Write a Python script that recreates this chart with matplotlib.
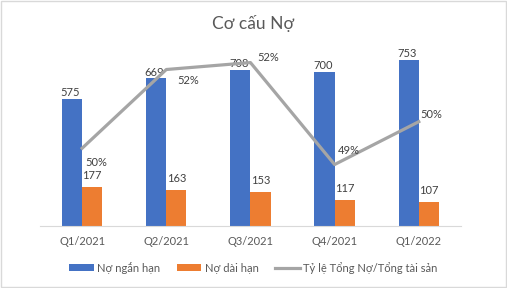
import numpy as np
import matplotlib
matplotlib.use("Agg")
import matplotlib.pyplot as plt
from matplotlib.patches import Rectangle

plt.rcParams['font.family'] = ['Lato', 'Noto Sans', 'DejaVu Sans']

quarters = ["Q1/2021", "Q2/2021", "Q3/2021", "Q4/2021", "Q1/2022"]
short_debt = [575, 669, 708, 700, 753]
long_debt = [177, 163, 153, 117, 107]
debt_ratio = [0.496, 0.5153, 0.517, 0.492, 0.5025]

blue = "#4472C4"
orange = "#ED7D31"
grey = "#A5A5A5"
txt = "#404040"

fig = plt.figure(figsize=(5.07, 2.88), dpi=100)
ax = fig.add_axes([0.079, 0.215, 0.830, 0.613])
ax2 = ax.twinx()

x = np.arange(len(quarters))
w = 0.24
b1 = ax.bar(x - w / 2, short_debt, w, color=blue, label="Nợ ngắn hạn")
b2 = ax.bar(x + w / 2, long_debt, w, color=orange, label="Nợ dài hạn")
ax.set_xlim(-0.5, len(quarters) - 0.5)
ax.set_ylim(0, 800)

for rect, v in zip(b1, short_debt):
    ax.annotate(str(v), (rect.get_x() + rect.get_width() / 2 - 0.02, v),
                xytext=(0, 0.5), textcoords="offset points",
                ha="center", va="bottom", fontsize=8, color=txt)
for rect, v in zip(b2, long_debt):
    ax.annotate(str(v), (rect.get_x() + rect.get_width() / 2, v),
                xytext=(0, 4.5), textcoords="offset points",
                ha="center", va="bottom", fontsize=8, color=txt)

line, = ax2.plot(x, debt_ratio, color=grey, lw=2.3, label="Tỷ lệ Tổng Nợ/Tổng tài sản")
ax2.set_ylim(0.4769, 0.5202)
offsets = [(2, -10), (8, -8), (5, 4), (2, 10), (1, 5)]
for xi, v, off in zip(x, debt_ratio, offsets):
    ax2.annotate(f"{v:.0%}", (xi, v), xytext=off, textcoords="offset points",
                 ha="left", va="center", fontsize=8, color=txt)

for a in (ax, ax2):
    for s in ("top", "right", "left"):
        a.spines[s].set_visible(False)
    a.set_yticks([])
ax2.spines["bottom"].set_visible(False)
ax.spines["bottom"].set_color("#D9D9D9")
ax.set_xticks(x)
ax.set_xticklabels(quarters, fontsize=8, color="#595959")
ax.tick_params(axis="x", length=0, pad=7)

fig.text(0.5, 0.92, "Cơ cấu Nợ", ha="center", va="center", fontsize=12.5, color="#595959")

fig.legend(handles=[b1, b2, line], loc="center", bbox_to_anchor=(0.5, 0.07), ncol=3,
           frameon=False, fontsize=8, labelcolor="#595959", handlelength=2.2,
           handleheight=0.6, handletextpad=0.3, columnspacing=1.5)

fig.patches.append(Rectangle((0.001, 0.002), 0.997, 0.995, transform=fig.transFigure,
                             fill=False, edgecolor="#D9D9D9", lw=1))

fig.savefig("out.png", dpi=100)
